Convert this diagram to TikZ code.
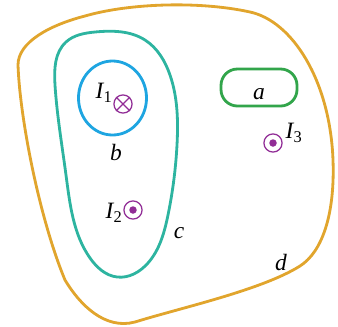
\documentclass[tikz,border=0pt]{standalone}
\usepackage{fontspec}
\setmainfont{Liberation Serif}
\usetikzlibrary{hobby}
\begin{document}
\begin{tikzpicture}[x=0.03cm, y=-0.03cm,
    loop/.style={line width=2.4pt, line join=round},
    current/.style={circle, draw=currentcolor, line width=1.1pt, minimum size=15.5pt, inner sep=0pt},
    label/.style={font=\fontsize{20}{24}\selectfont\itshape, inner sep=0pt}]
            % Define the colors
            \definecolor{dcolor}{RGB}{225, 165, 45}
            \definecolor{ccolor}{RGB}{45, 180, 160}
            \definecolor{bcolor}{RGB}{30, 165, 225}
            \definecolor{acolor}{RGB}{50, 165, 75}
            \definecolor{currentcolor}{RGB}{145, 45, 150}

            \useasboundingbox (0,0) rectangle (338,326);

            % Draw the loop d
            \draw[loop, draw=dcolor] (18,65) .. controls (18,42) and (50,25) .. (85,16)
                .. controls (130,3) and (200,1) .. (250,12)
                .. controls (292,21) and (330,80) .. (333,160)
                .. controls (335,215) and (322,252) .. (300,266)
                .. controls (262,290) and (180,308) .. (135,322)
                .. controls (105,330) and (80,305) .. (65,280)
                .. controls (40,220) and (20,120) .. cycle;

            % Draw the loop c
            \draw[loop, draw=ccolor, use Hobby shortcut, closed=true] (95,32) .. (145,40) .. (170,75)
                .. (177,145) .. (168,215) .. (148,263) .. (117,277) .. (90,258) .. (66,175)
                .. (55,85) .. (66,42);

            % Draw the loop b
            \draw[loop, draw=bcolor] (112.5,98) ellipse [x radius=34, y radius=37];

            % Draw the loop a
            \draw[loop, draw=acolor, rounded corners=14] (221,69) rectangle (297,106);

            % Draw the currents
            \node[current] (I1) at (123,104) {};
            \draw[currentcolor, line width=1.1pt] (I1.45) -- (I1.225) (I1.135) -- (I1.315);
            \node[current] (I2) at (133,210) {};
            \fill[currentcolor] (I2) circle (3.2pt);
            \node[current] (I3) at (273,143) {};
            \fill[currentcolor] (I3) circle (3.2pt);

            % Labels
            \node[label] (labelI1) at (104,93) {I\textsubscript{\upshape 1}};
            \node[label] (labelI2) at (114,213) {I\textsubscript{\upshape 2}};
            \node[label] (labelI3) at (294,133) {I\textsubscript{\upshape 3}};
            \node[label] (labela) at (259,94) {a};
            \node[label] (labelb) at (116,152) {b};
            \node[label] (labelc) at (179,233) {c};
            \node[label] (labeld) at (281,262) {d};

        \end{tikzpicture}
\end{document}
